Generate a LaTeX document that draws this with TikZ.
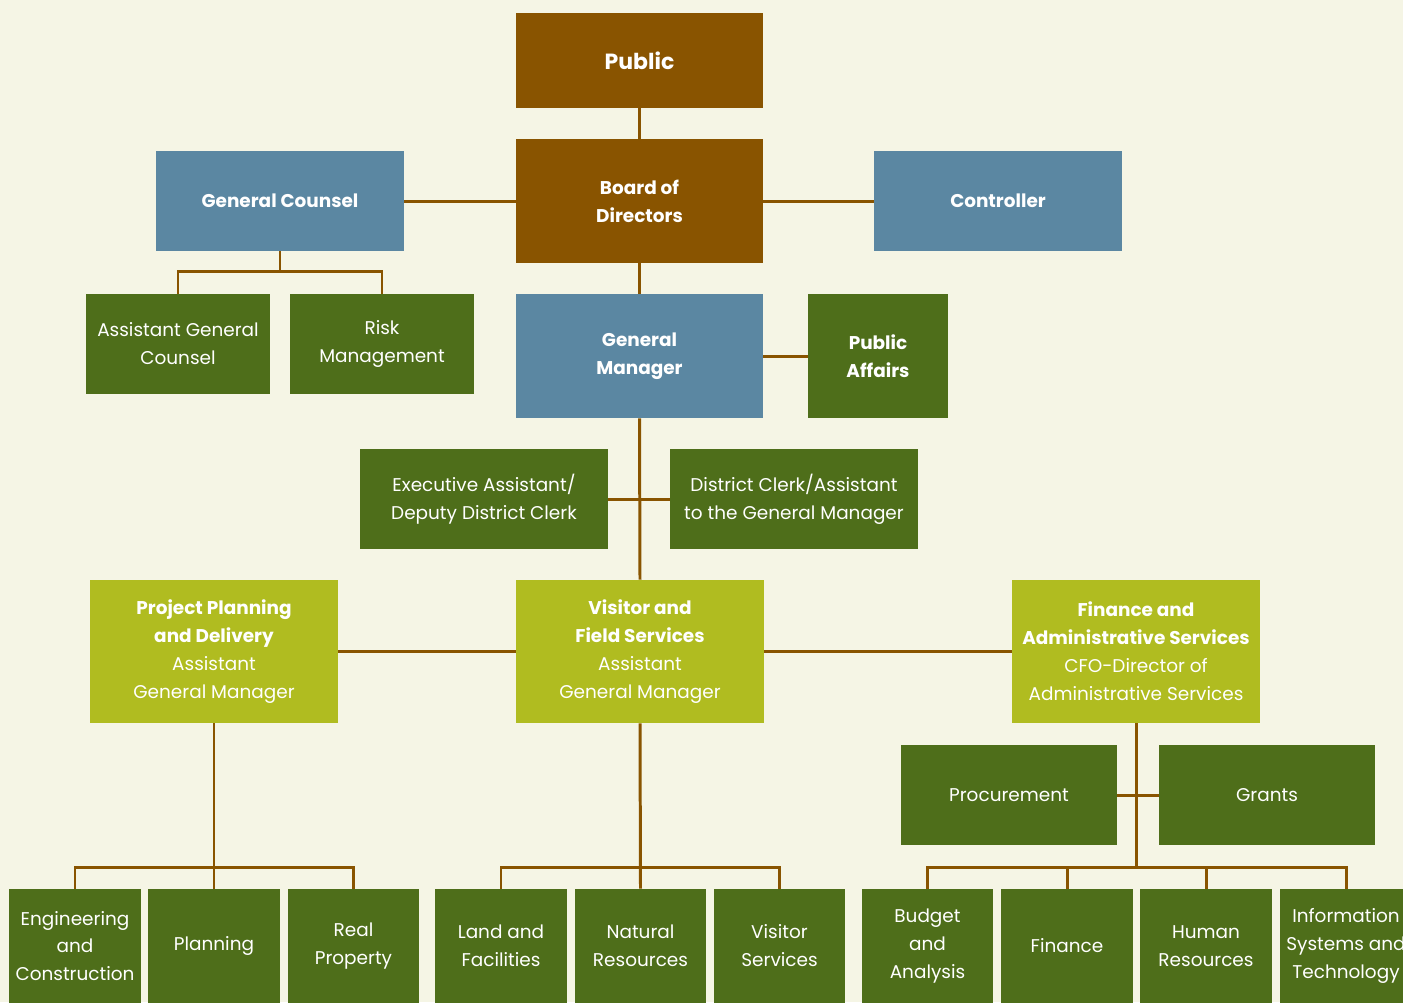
\documentclass[tikz,border=0pt]{standalone}
\usepackage{fontspec}
\setmainfont{Poppins}
\usepackage{xcolor}
\definecolor{bgcream}{RGB}{245,245,229}
\definecolor{boardbrown}{RGB}{137,84,0}
\definecolor{staffblue}{RGB}{91,135,162}
\definecolor{deptgreen}{RGB}{78,110,26}
\definecolor{agmlime}{RGB}{176,188,32}
\definecolor{linkbrown}{RGB}{137,84,0}
\tikzset{
  unit/.style={text=white, align=center, inner sep=0pt, font=\fontsize{10.5}{15.9}\selectfont},
  boardunit/.style={unit, fill=boardbrown, font=\fontsize{10.5}{15.9}\selectfont\bfseries},
  staffunit/.style={unit, fill=staffblue, font=\fontsize{10.5}{15.9}\selectfont\bfseries},
  deptunit/.style={unit, fill=deptgreen},
  agmunit/.style={unit, fill=agmlime, minimum width=4.96cm, minimum height=2.86cm},
  lowunit/.style={deptunit, minimum width=2.64cm, minimum height=2.28cm},
  link/.style={draw=linkbrown, line width=1.7pt}
}

\begin{document}
\begin{tikzpicture}[x=0.02cm, y=-0.02cm]
\useasboundingbox (0,0) rectangle (1403,1002);
\clip (0,0) rectangle (1403,1002);
\fill[bgcream] (0,0) rectangle (1403,1002);

\node[boardunit, font=\fontsize{12.5}{15.9}\selectfont\bfseries, minimum width=4.94cm, minimum height=1.9cm] (public) at (639.5,60.5) {Public};
\node[boardunit, minimum width=4.94cm, minimum height=2.48cm] (board) at (639.5,201) {Board of\\Directors};
\node[staffunit, minimum width=4.96cm, minimum height=2cm] (counsel) at (280,201) {General Counsel};
\node[staffunit, minimum width=4.96cm, minimum height=2cm] (controller) at (998,201) {Controller};
\node[deptunit, minimum width=3.68cm, minimum height=2cm] (asstcounsel) at (178,344) {Assistant General\\Counsel};
\node[deptunit, minimum width=3.68cm, minimum height=2cm] (risk) at (382,344) {Risk\\Management};
\node[staffunit, minimum width=4.94cm, minimum height=2.48cm] (gm) at (639.5,356) {General\\Manager};
\node[deptunit, font=\fontsize{10.5}{15.9}\selectfont\bfseries, minimum width=2.8cm, minimum height=2.48cm] (affairs) at (878,356) {Public\\Affairs};
\node[deptunit, minimum width=4.96cm, minimum height=2cm] (execasst) at (484,499) {Executive Assistant/\\Deputy District Clerk};
\node[deptunit, minimum width=4.96cm, minimum height=2cm] (clerk) at (794,499) {District Clerk/Assistant\\to the General Manager};

\node[agmunit] (ppd) at (214,651.5) {\textbf{Project Planning}\\\textbf{and Delivery}\\Assistant\\General Manager};
\node[agmunit] (vfs) at (640,651.5) {\textbf{Visitor and}\\\textbf{Field Services}\\Assistant\\General Manager};
\node[agmunit] (fas) at (1136,651.5) {\textbf{Finance and}\\\textbf{Administrative Services}\\CFO-Director of\\Administrative Services};

\node[deptunit, minimum width=4.32cm, minimum height=2cm] (procure) at (1009,795) {Procurement};
\node[deptunit, minimum width=4.32cm, minimum height=2cm] (grants) at (1267,795) {Grants};

\node[lowunit] (engineer) at (75,946) {Engineering\\and\\Construction};
\node[lowunit] (planning) at (214,946) {Planning};
\node[lowunit] (realprop) at (353.5,946) {Real\\Property};
\node[lowunit] (land) at (501,946) {Land and\\Facilities};
\node[lowunit] (natural) at (640.5,946) {Natural\\Resources};
\node[lowunit] (visitor) at (779.5,946) {Visitor\\Services};
\node[lowunit] (budget) at (927.5,946) {Budget\\and\\Analysis};
\node[lowunit] (finance) at (1067,946) {Finance};
\node[lowunit] (human) at (1206,946) {Human\\Resources};
\node[lowunit] (infosys) at (1346,946) {Information\\Systems and\\Technology};

\draw[link] (public.south) -- (board.north);
\draw[link] (counsel.east) -- (board.west);
\draw[link] (board.east) -- (controller.west);
\draw[link] (board.south) -- (gm.north);
\draw[link] (counsel.south) -- ++(0,21);
\draw[link] (asstcounsel.north) -- ++(0,-22) -| (risk.north);
\draw[link] (gm.east) -- (affairs.west);
\draw[link] (gm.south) -- (vfs.north);
\draw[link] (execasst.east) -- (clerk.west);
\draw[link] (ppd.east) -- (vfs.west);
\draw[link] (vfs.east) -- (fas.west);
\draw[link] (ppd.south) -- (planning.north);
\draw[link] (engineer.north) -- ++(0,-21) -| (realprop.north);
\draw[link] (vfs.south) -- (natural.north);
\draw[link] (land.north) -- ++(0,-21) -| (visitor.north);
\draw[link] (fas.south) -- ++(0,145);
\draw[link] (procure.east) -- (grants.west);
\draw[link] (budget.north) -- ++(0,-21) -| (infosys.north);
\draw[link] (finance.north) -- ++(0,-21);
\draw[link] (human.north) -- ++(0,-21);
\end{tikzpicture}
\end{document}
